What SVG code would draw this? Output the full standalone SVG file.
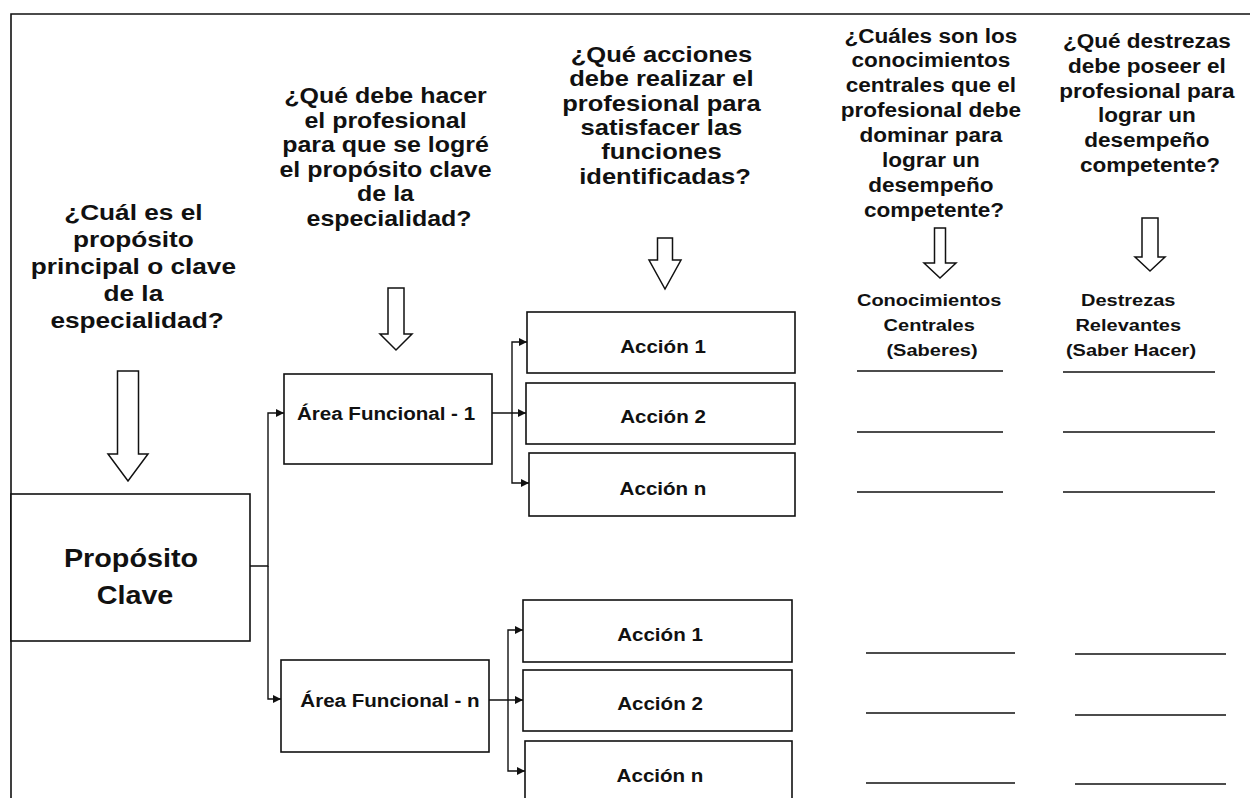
<svg xmlns="http://www.w3.org/2000/svg" width="1250" height="798" viewBox="0 0 1250 798">
<style>
.t{font-family:"Liberation Sans",Arial,sans-serif;font-weight:bold;fill:#111;text-anchor:middle}
.box{fill:#fff;stroke:#111;stroke-width:1.6}
.big{fill:#fff;stroke:#111;stroke-width:1.5}
.con{fill:none;stroke:#111;stroke-width:1.4}
.ul{stroke:#111;stroke-width:1.6}
.frame{fill:none;stroke:#111;stroke-width:1.6}
</style>
<defs>
<marker id="ah" markerWidth="9" markerHeight="8" refX="8" refY="4" orient="auto" markerUnits="userSpaceOnUse">
<path d="M0 0 L8 4 L0 8 Z" fill="#111"/>
</marker>
</defs>
<rect width="1250" height="798" fill="#fff"/>
<path class="frame" d="M11 798 V14 H1250"/>

<g id="q1">
<text class="t" font-size="22.8" transform="translate(137 0) scale(1.15 1)">
<tspan x="0" y="220">¿Cuál es el</tspan>
<tspan x="0" y="247">propósito</tspan>
<tspan x="0" y="274">principal o clave</tspan>
<tspan x="0" y="301">de la</tspan>
<tspan x="0" y="328">especialidad?</tspan>
</text>
<path class="big" d="M117.5 371 H138.5 V454 H148 L128 481 L108 454 H117.5 Z"/>
</g>

<g id="q2">
<text class="t" font-size="21.7" transform="translate(389 0) scale(1.15 1)">
<tspan x="0" y="103">¿Qué debe hacer</tspan>
<tspan x="0" y="128">el profesional</tspan>
<tspan x="0" y="152">para que se logré</tspan>
<tspan x="0" y="177">el propósito clave</tspan>
<tspan x="0" y="201">de la</tspan>
<tspan x="0" y="226">especialidad?</tspan>
</text>
<path class="big" d="M388 288 H404 V334 H412 L396 350 L380 334 H388 Z"/>
</g>

<g id="q3">
<text class="t" font-size="22.2" transform="translate(665 0) scale(1.15 1)">
<tspan x="0" y="62">¿Qué acciones</tspan>
<tspan x="0" y="86">debe realizar el</tspan>
<tspan x="0" y="111">profesional para</tspan>
<tspan x="0" y="135">satisfacer las</tspan>
<tspan x="0" y="159">funciones</tspan>
<tspan x="0" y="184">identificadas?</tspan>
</text>
<path class="big" d="M657.5 238 H672.5 V260 H681 L665 289 L649 260 H657.5 Z"/>
</g>

<g id="q4">
<text class="t" font-size="19.6" transform="translate(934 0) scale(1.15 1)">
<tspan x="0" y="43">¿Cuáles son los</tspan>
<tspan x="0" y="67">conocimientos</tspan>
<tspan x="0" y="92">centrales que el</tspan>
<tspan x="0" y="117">profesional debe</tspan>
<tspan x="0" y="142">dominar para</tspan>
<tspan x="0" y="167">lograr un</tspan>
<tspan x="0" y="192">desempeño</tspan>
<tspan x="0" y="217">competente?</tspan>
</text>
<path class="big" d="M934.5 228 H945.5 V263 H956 L940 278 L924 263 H934.5 Z"/>
</g>

<g id="q5">
<text class="t" font-size="19.6" transform="translate(1150 0) scale(1.15 1)">
<tspan x="0" y="48">¿Qué destrezas</tspan>
<tspan x="0" y="73">debe poseer el</tspan>
<tspan x="0" y="98">profesional para</tspan>
<tspan x="0" y="122">lograr un</tspan>
<tspan x="0" y="147">desempeño</tspan>
<tspan x="0" y="172">competente?</tspan>
</text>
<path class="big" d="M1142 218 H1158 V257 H1165 L1150 271 L1135 257 H1142 Z"/>
</g>

<g id="proposito">
<rect class="box" x="11" y="494" width="239" height="147"/>
<text class="t" font-size="25" transform="translate(135 0) scale(1.15 1)">
<tspan x="0" y="567">Propósito</tspan>
<tspan x="0" y="604">Clave</tspan>
</text>
</g>

<g id="area1">
<rect class="box" x="284" y="374" width="208" height="90"/>
<text class="t" font-size="17.9" transform="translate(386 0) scale(1.15 1)" x="0" y="420">Área Funcional - 1</text>
</g>

<g id="arean">
<rect class="box" x="281" y="660" width="208" height="92"/>
<text class="t" font-size="17.9" transform="translate(390 0) scale(1.15 1)" x="0" y="707">Área Funcional - n</text>
</g>

<g id="a1-1">
<rect class="box" x="527" y="312" width="268" height="61"/>
<text class="t" font-size="17.9" transform="translate(663 0) scale(1.15 1)" x="0" y="353">Acción 1</text>
</g>
<g id="a1-2">
<rect class="box" x="526" y="383" width="269" height="61"/>
<text class="t" font-size="17.9" transform="translate(663 0) scale(1.15 1)" x="0" y="423">Acción 2</text>
</g>
<g id="a1-n">
<rect class="box" x="529" y="453" width="266" height="63"/>
<text class="t" font-size="17.9" transform="translate(663 0) scale(1.15 1)" x="0" y="495">Acción n</text>
</g>

<g id="a2-1">
<rect class="box" x="523" y="600" width="269" height="62"/>
<text class="t" font-size="17.9" transform="translate(660 0) scale(1.15 1)" x="0" y="641">Acción 1</text>
</g>
<g id="a2-2">
<rect class="box" x="523" y="670" width="269" height="61"/>
<text class="t" font-size="17.9" transform="translate(660 0) scale(1.15 1)" x="0" y="710">Acción 2</text>
</g>
<g id="a2-n">
<rect class="box" x="525" y="741" width="267" height="70"/>
<text class="t" font-size="17.9" transform="translate(660 0) scale(1.15 1)" x="0" y="782">Acción n</text>
</g>

<g id="conocimientos">
<text class="t" font-size="17.4" transform="translate(932 0) scale(1.15 1)">
<tspan x="0" y="306">Conocimientos</tspan>
<tspan x="0" y="331">Centrales</tspan>
<tspan x="0" y="356">(Saberes)</tspan>
</text>
<line class="ul" x1="857" y1="371" x2="1003" y2="371"/>
<line class="ul" x1="857" y1="432" x2="1003" y2="432"/>
<line class="ul" x1="857" y1="492" x2="1003" y2="492"/>
<line class="ul" x1="866" y1="653" x2="1015" y2="653"/>
<line class="ul" x1="866" y1="713" x2="1015" y2="713"/>
<line class="ul" x1="866" y1="783" x2="1015" y2="783"/>
</g>

<g id="destrezas">
<text class="t" font-size="17.4" transform="translate(1131 0) scale(1.15 1)">
<tspan x="0" y="306">Destrezas</tspan>
<tspan x="0" y="331">Relevantes</tspan>
<tspan x="0" y="356">(Saber Hacer)</tspan>
</text>
<line class="ul" x1="1063" y1="372" x2="1215" y2="372"/>
<line class="ul" x1="1063" y1="432" x2="1215" y2="432"/>
<line class="ul" x1="1063" y1="492" x2="1215" y2="492"/>
<line class="ul" x1="1075" y1="654" x2="1226" y2="654"/>
<line class="ul" x1="1075" y1="715" x2="1226" y2="715"/>
<line class="ul" x1="1075" y1="784" x2="1226" y2="784"/>
</g>

<g id="connectors">
<path class="con" d="M250 566 H268 V413 H284" marker-end="url(#ah)"/>
<path class="con" d="M268 566 V699 H281" marker-end="url(#ah)"/>
<path class="con" d="M492 413 H526" marker-end="url(#ah)"/>
<path class="con" d="M512 413 V342 H527" marker-end="url(#ah)"/>
<path class="con" d="M512 413 V483 H529" marker-end="url(#ah)"/>
<path class="con" d="M489 700 H523" marker-end="url(#ah)"/>
<path class="con" d="M508 700 V630 H523" marker-end="url(#ah)"/>
<path class="con" d="M508 700 V771 H525" marker-end="url(#ah)"/>
</g>
</svg>
